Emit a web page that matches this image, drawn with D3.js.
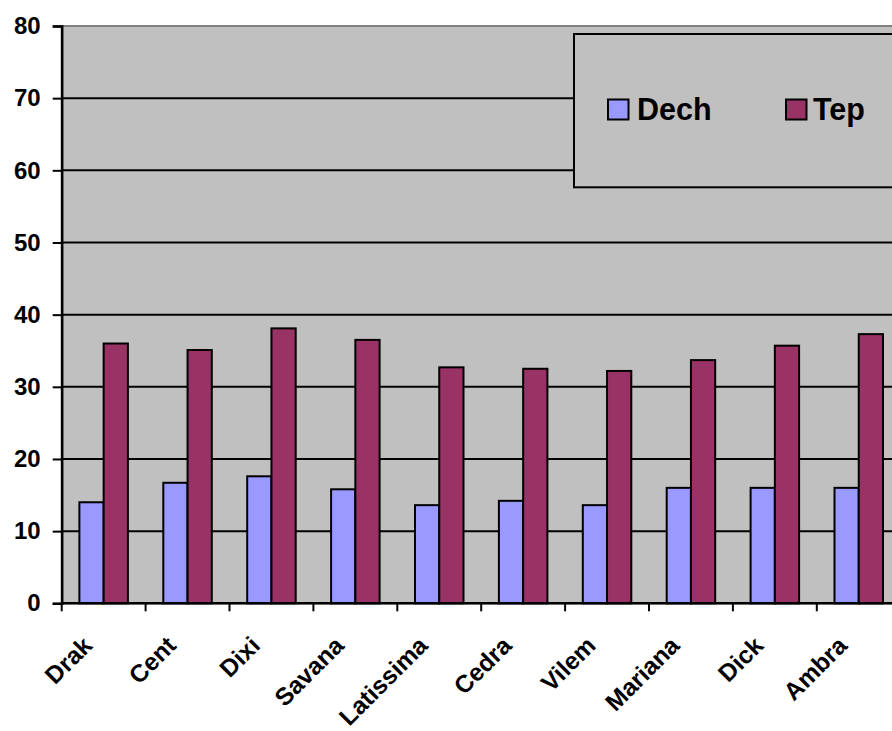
<!DOCTYPE html>
<html>
<head>
<meta charset="utf-8">
<script src="https://cdn.jsdelivr.net/npm/d3@7/dist/d3.min.js"></script>
<style>
  html, body { margin: 0; padding: 0; background: #ffffff; overflow: hidden; }
  svg { display: block; font-family: Arial, "Liberation Sans", sans-serif; font-weight: bold; }
</style>
</head>
<body>
<svg id="chart" width="892" height="731"></svg>
<script>
// Varieties and their two measured series
const categories = ["Drak", "Cent", "Dixi", "Savana", "Latissima", "Cedra", "Vilem", "Mariana", "Dick", "Ambra"];
const seriesNames = ["Dech", "Tep"];
const dechValues = [14, 16.7, 17.6, 15.8, 13.6, 14.2, 13.6, 16, 16, 16];
const tepValues = [36, 35.1, 38.1, 36.5, 32.7, 32.5, 32.2, 33.7, 35.7, 37.3];
const yTicks = [0, 10, 20, 30, 40, 50, 60, 70, 80];

const colors = { Dech: "#9999FF", Tep: "#993366" };

const svg = d3.select("#chart");

// Plot area (the right edge runs past the window, as in the source sheet)
const plot = { left: 61.7, top: 26, width: 839, height: 577.3 };

const x = d3.scaleBand()
  .domain(categories)
  .range([plot.left, plot.left + plot.width])
  .paddingInner(0).paddingOuter(0);

const xInner = d3.scaleBand()
  .domain(seriesNames)
  .range([0, x.bandwidth()])
  .paddingInner(0).paddingOuter(0.73);

const y = d3.scaleLinear()
  .domain([0, 80])
  .range([plot.top + plot.height, plot.top]);

// Plot background
svg.append("rect")
  .attr("x", plot.left).attr("y", plot.top)
  .attr("width", plot.width).attr("height", plot.height)
  .attr("fill", "#C0C0C0")
  .attr("stroke", "#808080").attr("stroke-width", 2);

// Horizontal gridlines
svg.append("g")
  .selectAll("line")
  .data(yTicks.filter(d => d > 0 && d < 80))
  .join("line")
  .attr("x1", plot.left).attr("x2", plot.left + plot.width)
  .attr("y1", d => y(d)).attr("y2", d => y(d))
  .attr("stroke", "#000").attr("stroke-width", 2);

// Bars
const rows = categories.map((c, i) => ({ cat: c, Dech: dechValues[i], Tep: tepValues[i] }));
const groups = svg.append("g")
  .selectAll("g")
  .data(rows)
  .join("g")
  .attr("transform", d => `translate(${x(d.cat)},0)`);

groups.selectAll("rect")
  .data(d => seriesNames.map(s => ({ s, v: d[s] })))
  .join("rect")
  .attr("x", d => xInner(d.s))
  .attr("width", xInner.bandwidth())
  .attr("y", d => y(d.v))
  .attr("height", d => y(0) - y(d.v))
  .attr("fill", d => colors[d.s])
  .attr("stroke", "#000").attr("stroke-width", 2);

// Y axis
const yAxis = d3.axisLeft(y).tickValues(yTicks).tickSize(9).tickPadding(12);
const gy = svg.append("g")
  .attr("transform", `translate(${plot.left},0)`)
  .call(yAxis);
gy.select(".domain").attr("stroke", "#000").attr("stroke-width", 2.5);
gy.selectAll(".tick line").attr("stroke", "#000").attr("stroke-width", 2);
gy.selectAll(".tick text")
  .attr("font-size", 24).attr("font-weight", "bold")
  .attr("font-family", "Arial, 'Liberation Sans', sans-serif")
  .attr("fill", "#000");

// X axis: tick marks at category boundaries
const boundaries = categories.map(c => x(c)).concat([plot.left + plot.width]);
svg.append("line")
  .attr("x1", plot.left).attr("x2", plot.left + plot.width)
  .attr("y1", y(0)).attr("y2", y(0))
  .attr("stroke", "#000").attr("stroke-width", 2.5);
svg.append("g")
  .selectAll("line")
  .data(boundaries)
  .join("line")
  .attr("x1", d => d).attr("x2", d => d)
  .attr("y1", y(0)).attr("y2", y(0) + 8)
  .attr("stroke", "#000").attr("stroke-width", 2);

// Rotated category labels
svg.append("g")
  .selectAll("text")
  .data(categories)
  .join("text")
  .attr("transform", d => `translate(${x(d) + x.bandwidth() / 2 - 10},647) rotate(-45)`)
  .attr("text-anchor", "end")
  .attr("font-size", 24.5)
  .attr("fill", "#000")
  .text(d => d);

// Legend
const legend = svg.append("g");
legend.append("rect")
  .attr("x", 574).attr("y", 34)
  .attr("width", 340).attr("height", 153.3)
  .attr("fill", "#C0C0C0")
  .attr("stroke", "#000").attr("stroke-width", 2);

const legendItems = [
  { name: "Dech", sx: 608, tx: 637 },
  { name: "Tep", sx: 786, tx: 813 }
];
legend.selectAll("rect.sw")
  .data(legendItems)
  .join("rect")
  .attr("class", "sw")
  .attr("x", d => d.sx).attr("y", 99.5)
  .attr("width", 20.5).attr("height", 20)
  .attr("fill", d => colors[d.name])
  .attr("stroke", "#000").attr("stroke-width", 2);
legend.selectAll("text")
  .data(legendItems)
  .join("text")
  .attr("x", d => d.tx).attr("y", 120)
  .attr("font-size", 30.5)
  .attr("fill", "#000")
  .text(d => d.name);
</script>
</body>
</html>
